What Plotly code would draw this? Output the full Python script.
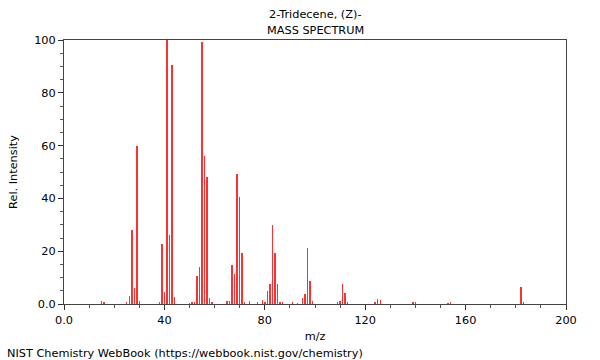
import plotly.graph_objects as go

mz = [15, 16, 25, 26, 27, 28, 29, 30, 38, 39, 40, 41, 42, 43, 44,
      50, 51, 52, 53, 54, 55, 56, 57, 58, 59,
      65, 66, 67, 68, 69, 70, 71, 72, 74, 77, 79, 80, 81, 82, 83, 84, 85, 86, 87,
      91, 93, 95, 96, 97, 98, 99, 109, 110, 111, 112, 113,
      124, 125, 126, 139, 140, 153, 154, 182, 183]
intensity = [1.2, 0.5, 0.4, 3.0, 28.0, 6.0, 59.8, 1.3, 0.5, 22.8, 4.6, 100.0, 26.0, 90.5, 2.5,
             0.3, 0.9, 0.8, 10.5, 13.9, 99.2, 56.0, 48.2, 2.4, 0.5,
             1.3, 1.3, 14.8, 11.2, 49.2, 40.5, 19.2, 0.8, 1.0, 0.7, 1.5, 0.5, 4.9, 7.7, 29.8, 19.2, 7.4, 0.5, 0.5,
             0.5, 0.3, 2.1, 3.7, 21.4, 8.6, 1.1, 0.8, 1.2, 7.4, 4.0, 0.4,
             0.5, 2.0, 1.6, 0.5, 0.5, 0.3, 0.8, 6.4, 0.9]

x_tickvals = [0, 40, 80, 120, 160, 200]
x_ticktext = ["0.0", "40", "80", "120", "160", "200"]
y_tickvals = [0, 20, 40, 60, 80, 100]
y_ticktext = ["0.0", "20", "40", "60", "80", "100"]

title_line1 = "2-Tridecene, (Z)-"
title_line2 = "MASS SPECTRUM"
credit = "NIST Chemistry WebBook (https://webbook.nist.gov/chemistry)"

fig = go.Figure()
fig.add_trace(go.Bar(x=mz, y=intensity, width=0.2,
                     marker=dict(color="#ff3030", line=dict(width=0)),
                     hoverinfo="x+y"))

font = dict(family="DejaVu Sans", size=11.3, color="#000000")

L, R, T, B = 62, 34, 40, 56
W, H = 600, 360

fig.update_layout(
    width=W, height=H,
    margin=dict(l=L, r=R, t=T, b=B),
    paper_bgcolor="white", plot_bgcolor="white",
    showlegend=False, bargap=0,
    font=font,
    xaxis=dict(range=[0, 200], tickvals=x_tickvals, ticktext=x_ticktext,
               ticks="outside", ticklen=5, tickcolor="#333", showgrid=False,
               zeroline=False, showline=True, linecolor="#444", linewidth=1, mirror=True,
               minor=dict(dtick=10, tick0=0, ticks="outside", ticklen=3, tickcolor="#555", showgrid=False),
               title=dict(text="m/z", font=font, standoff=6)),
    yaxis=dict(range=[0, 100], tickvals=y_tickvals, ticktext=y_ticktext,
               ticks="outside", ticklen=5, tickcolor="#333", showgrid=False,
               zeroline=False, showline=True, linecolor="#444", linewidth=1, mirror=True,
               minor=dict(dtick=5, tick0=0, ticks="outside", ticklen=3, tickcolor="#555", showgrid=False),
               title=dict(text="Rel. Intensity", font=font, standoff=14)),
)

plot_h = H - T - B
plot_w = W - L - R
def py(pix_y):
    return (H - B - pix_y) / plot_h
def px(pix_x):
    return (pix_x - L) / plot_w

fig.add_annotation(text=title_line1, x=0.5, y=py(14), xref="paper", yref="paper",
                   showarrow=False, font=font, yanchor="middle")
fig.add_annotation(text=title_line2, x=0.5, y=py(30), xref="paper", yref="paper",
                   showarrow=False, font=font, yanchor="middle")
fig.add_annotation(text=credit, x=px(3), y=py(353), xref="paper", yref="paper",
                   showarrow=False, font=font, xanchor="left", yanchor="middle")

fig.write_html("out.html", config={"displayModeBar": False},
               post_script="document.body.style.margin='0';")
